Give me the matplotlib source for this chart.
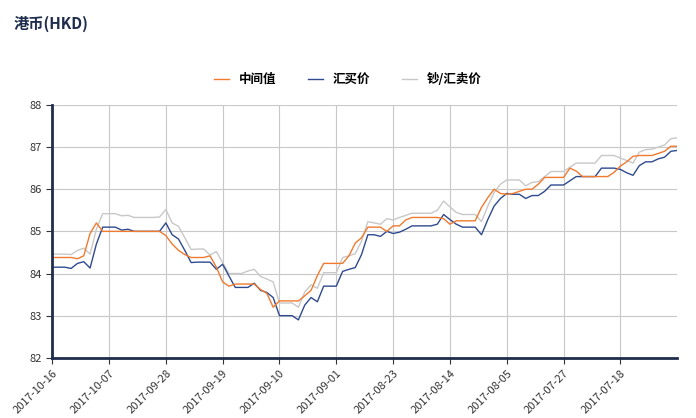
import matplotlib.pyplot as plt
import numpy as np

plt.rcParams['font.family'] = ['Noto Sans CJK SC', 'DejaVu Sans']

tick_labels = ["2017-10-16", "2017-10-07", "2017-09-28", "2017-09-19", "2017-09-10", "2017-09-01",
               "2017-08-23", "2017-08-14", "2017-08-05", "2017-07-27", "2017-07-18"]

mid = [84.38, 84.38, 84.38, 84.38, 84.35, 84.42, 84.95, 85.2, 85.0, 85.0,
       85.0, 85.0, 85.0, 85.0, 85.0, 85.0, 85.0, 85.0, 84.9, 84.7,
       84.55, 84.45, 84.38, 84.38, 84.38, 84.42, 84.15, 83.8, 83.7, 83.75,
       83.75, 83.75, 83.75, 83.62, 83.53, 83.2, 83.35, 83.35, 83.35, 83.35,
       83.47, 83.6, 83.95, 84.24, 84.24, 84.24, 84.24, 84.42, 84.72, 84.85,
       85.1, 85.1, 85.1, 85.0, 85.13, 85.13, 85.27, 85.33, 85.33, 85.33,
       85.33, 85.33, 85.3, 85.17, 85.25, 85.25, 85.25, 85.25, 85.57, 85.8,
       86.0, 85.9, 85.88, 85.9, 85.95, 86.0, 86.0, 86.12, 86.28, 86.28,
       86.28, 86.28, 86.5, 86.43, 86.3, 86.3, 86.3, 86.3, 86.3, 86.4,
       86.55, 86.65, 86.78, 86.8, 86.8, 86.8, 86.85, 86.9, 87.02, 87.02]

buy = [84.15, 84.15, 84.15, 84.12, 84.24, 84.28, 84.13, 84.7, 85.1, 85.1,
       85.1, 85.03, 85.05, 85.0, 85.0, 85.0, 85.0, 85.0, 85.2, 84.92,
       84.82, 84.55, 84.26, 84.27, 84.27, 84.27, 84.1, 84.22, 83.94, 83.67,
       83.67, 83.67, 83.77, 83.6, 83.55, 83.43, 83.0, 83.0, 83.0, 82.9,
       83.25, 83.43, 83.33, 83.7, 83.7, 83.7, 84.05, 84.1, 84.14, 84.45,
       84.92, 84.92, 84.88, 85.0, 84.95, 84.98, 85.05, 85.13, 85.13, 85.13,
       85.13, 85.17, 85.4, 85.28, 85.17, 85.1, 85.1, 85.1, 84.92, 85.28,
       85.6, 85.78, 85.9, 85.88, 85.88, 85.78, 85.85, 85.85, 85.95, 86.1,
       86.1, 86.1, 86.2, 86.3, 86.3, 86.3, 86.3, 86.5, 86.5, 86.5,
       86.47, 86.39, 86.33, 86.56, 86.65, 86.65, 86.72, 86.76, 86.9, 86.92]

sell = [84.46, 84.46, 84.46, 84.45, 84.55, 84.6, 84.46, 85.05, 85.42, 85.42,
        85.42, 85.37, 85.38, 85.33, 85.33, 85.33, 85.33, 85.34, 85.52, 85.2,
        85.12, 84.85, 84.57, 84.58, 84.58, 84.44, 84.52, 84.26, 84.0, 84.0,
        84.0, 84.06, 84.1, 83.93, 83.87, 83.8, 83.3, 83.3, 83.3, 83.2,
        83.56, 83.73, 83.65, 84.02, 84.02, 84.02, 84.38, 84.42, 84.47, 84.77,
        85.23, 85.2, 85.17, 85.3, 85.27, 85.33, 85.38, 85.43, 85.43, 85.43,
        85.43, 85.5, 85.72, 85.58, 85.45, 85.4, 85.4, 85.4, 85.23, 85.6,
        85.92, 86.12, 86.22, 86.22, 86.22, 86.08, 86.16, 86.18, 86.3, 86.42,
        86.42, 86.42, 86.52, 86.62, 86.62, 86.62, 86.62, 86.8, 86.8, 86.8,
        86.74, 86.68, 86.62, 86.88, 86.94, 86.95, 87.0, 87.05, 87.2, 87.22]

fig = plt.figure(figsize=(6.96, 4.18), dpi=100)
ax = fig.add_axes([0.075, 0.144, 0.898, 0.605])

x = np.arange(len(mid))
ax.plot(x, sell, color="#c8c8c8", lw=1, label="钞/汇卖价")
ax.plot(x, buy, color="#2f4a8f", lw=1, label="汇买价")
ax.plot(x, mid, color="#f07a2f", lw=1, label="中间值")

ax.set_xlim(0, 99)
ax.set_ylim(82, 88)
ax.set_yticks(range(82, 89))
ax.set_xticks(range(0, 91, 9))
ax.set_xticklabels(tick_labels, rotation=45, ha="right", rotation_mode="anchor")
ax.tick_params(labelsize=8, colors="#333333", length=4)
ax.grid(True, color="#c8c8c8", lw=0.8)
for s in ["top", "right"]:
    ax.spines[s].set_visible(False)
ax.spines["left"].set_color("#1f2d4d")
ax.spines["left"].set_linewidth(2)
ax.spines["bottom"].set_color("#1f2d4d")
ax.spines["bottom"].set_linewidth(2)

h, l = ax.get_legend_handles_labels()
fig.legend(h[::-1], l[::-1], loc="center", bbox_to_anchor=(0.5, 0.81), ncol=3, frameon=False,
           prop={"size": 9, "weight": "bold"}, handlelength=1.2, columnspacing=2.5)
fig.text(0.02, 0.93, "港币(HKD)", fontsize=11, fontweight="bold", color="#1f2d4d")

fig.savefig("out.png")
